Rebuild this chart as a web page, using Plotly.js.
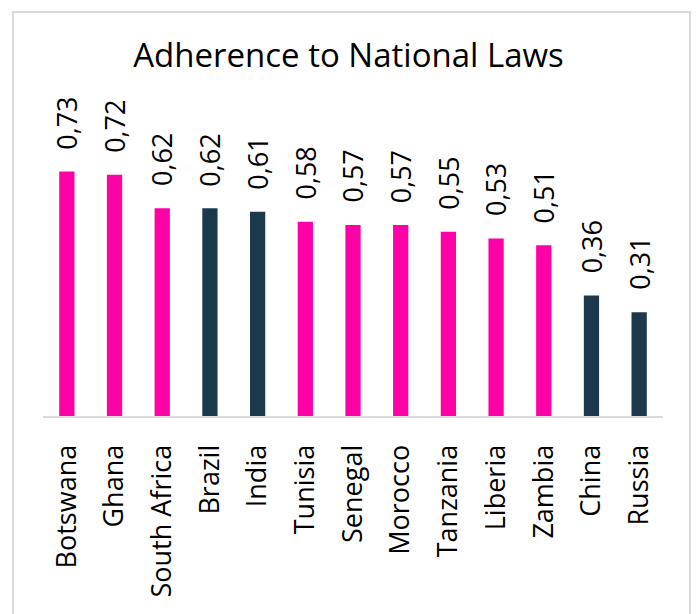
<!DOCTYPE html>
<html>
<head>
<meta charset="utf-8">
<script src="https://cdn.plot.ly/plotly-3.0.1.min.js"></script>
<style>
  html, body { margin: 0; padding: 0; background: #ffffff; }
  #wrap { position: relative; width: 697px; height: 614px; overflow: hidden; }
  #frame { position: absolute; left: 12px; top: 11px; width: 679px; height: 620px;
           border: 2px solid #d9d9d9; box-sizing: border-box; }
  #chart { position: absolute; left: 0; top: 0; width: 697px; height: 614px; }
</style>
</head>
<body>
<div id="wrap">
  <div id="frame"></div>
  <div id="chart"></div>
</div>
<script>
const countries = ["Botswana", "Ghana", "South Africa", "Brazil", "India", "Tunisia", "Senegal",
                   "Morocco", "Tanzania", "Liberia", "Zambia", "China", "Russia"];
const scores = [0.73, 0.72, 0.62, 0.62, 0.61, 0.58, 0.57, 0.57, 0.55, 0.53, 0.51, 0.36, 0.31];
const groups = ["Africa", "Africa", "Africa", "BRICS", "BRICS", "Africa", "Africa",
                "Africa", "Africa", "Africa", "Africa", "BRICS", "BRICS"];
const groupColors = { Africa: "#FF00A6", BRICS: "#1C394C" };
const titleText = "Adherence to National Laws";

const FONT = "'Open Sans', 'Noto Sans', sans-serif";
const fmt = v => v.toFixed(2).replace(".", ",");

const trace = {
  type: "bar",
  x: countries,
  y: scores,
  marker: { color: groups.map(g => groupColors[g]) },
  hoverinfo: "x+y"
};

const annotations = countries.map((c, i) => ({
  x: c, y: scores[i], xref: "x", yref: "y",
  text: fmt(scores[i]),
  textangle: -90,
  showarrow: false,
  xanchor: "center", yanchor: "bottom",
  yshift: 20,
  font: { family: FONT, size: 27, color: "#000000" }
}));

const layout = {
  width: 697, height: 614,
  paper_bgcolor: "rgba(0,0,0,0)",
  plot_bgcolor: "rgba(0,0,0,0)",
  margin: { l: 43, r: 34, t: 148, b: 198, pad: 0 },
  showlegend: false,
  bargap: 0.68,
  title: {
    text: titleText,
    x: 0.5, xref: "container", xanchor: "center",
    y: 0.909, yref: "container", yanchor: "middle",
    font: { family: FONT, size: 33, color: "#000000" }
  },
  xaxis: {
    type: "category",
    showline: true, linecolor: "#d9d9d9", linewidth: 2,
    ticks: "", tickangle: -90, ticklabelstandoff: 16,
    tickfont: { family: FONT, size: 27, color: "#000000" },
    showgrid: false, zeroline: false
  },
  yaxis: {
    range: [0, 0.8],
    visible: false, showgrid: false, zeroline: false, fixedrange: true
  },
  annotations: annotations
};

Plotly.newPlot("chart", [trace], layout, { displayModeBar: false, staticPlot: true });
</script>
</body>
</html>
